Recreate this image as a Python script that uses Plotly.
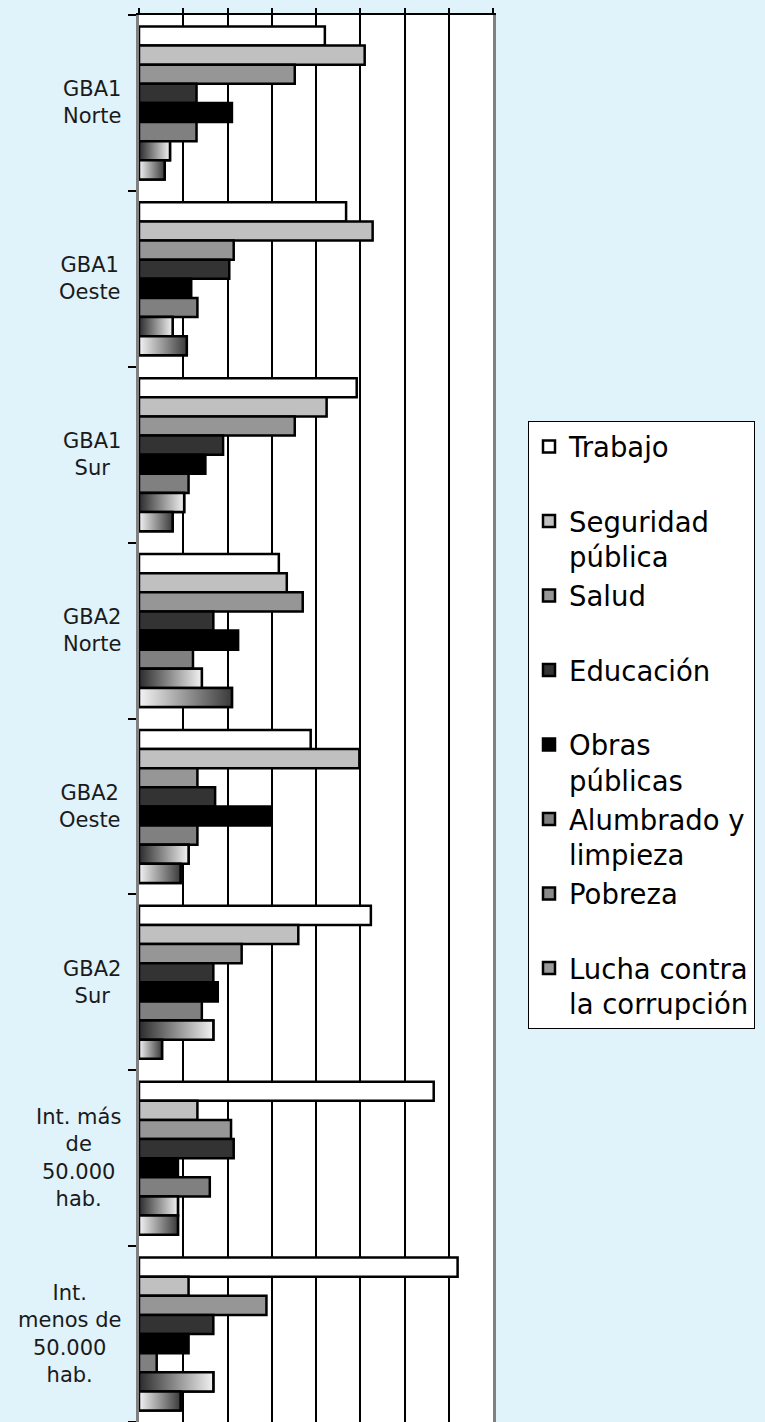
import plotly.graph_objects as go

categories = [
    "GBA1<br>Norte",
    "GBA1<br>Oeste",
    "GBA1<br>Sur",
    "GBA2<br>Norte",
    "GBA2<br>Oeste",
    "GBA2<br>Sur",
    "Int. más<br>de<br>50.000<br>hab.",
    "Int.<br>menos de<br>50.000<br>hab.",
]

series_names = [
    "Trabajo<br>\u00a0",
    "Seguridad<br>pública",
    "Salud<br>\u00a0",
    "Educación<br>\u00a0",
    "Obras<br>públicas",
    "Alumbrado y<br>limpieza",
    "Pobreza<br>\u00a0",
    "Lucha contra<br>la corrupción",
]

trabajo = [21.0, 23.4, 24.6, 15.8, 19.4, 26.2, 33.3, 36.0]
seguridad = [25.5, 26.4, 21.2, 16.7, 24.9, 18.0, 6.6, 5.6]
salud = [17.6, 10.7, 17.6, 18.5, 6.6, 11.6, 10.4, 14.4]
educacion = [6.5, 10.2, 9.5, 8.4, 8.6, 8.4, 10.7, 8.4]
obras = [10.5, 5.9, 7.5, 11.2, 15.0, 8.9, 4.4, 5.6]
alumbrado = [6.5, 6.6, 5.6, 6.1, 6.6, 7.1, 8.0, 2.0]
pobreza = [3.5, 3.8, 5.1, 7.1, 5.6, 8.4, 4.4, 8.4]
lucha = [2.9, 5.4, 3.8, 10.5, 4.7, 2.6, 4.4, 4.7]

series_values = [trabajo, seguridad, salud, educacion, obras, alumbrado, pobreza, lucha]
colors = ["#ffffff", "#c0c0c0", "#969696", "#333333", "#000000", "#808080", "#8a8a8a", "#9a9a9a"]
# gradient fills for the last two series (left -> right)
gradients = {
    6: [[0, "#2b2b2b"], [1, "#f2f2f2"]],
    7: [[0, "#f4f4f4"], [1, "#3a3a3a"]],
}

FONT = "DejaVu Sans"
BARGAP = 0.13

ypos = list(range(len(categories)))

fig = go.Figure()
for j, (name, vals) in enumerate(zip(series_names, series_values)):
    fig.add_trace(
        go.Bar(
            name=name,
            y=ypos,
            x=vals,
            orientation="h",
            marker=dict(color=colors[j], line=dict(color="#000000", width=2.5)),
            legendgroup=str(j),
            hoverinfo="x+name",
        )
    )

# gradient overlays, placed with the same grouping geometry as the bars
n = len(series_values)
w = 1 - BARGAP
for j, scale in gradients.items():
    for i, v in enumerate(series_values[j]):
        yc = ypos[i] - w / 2 + (j + 0.5) * w / n
        h = w / n / 2
        fig.add_trace(
            go.Scatter(
                x=[0, v, v, 0, 0],
                y=[yc - h, yc - h, yc + h, yc + h, yc - h],
                mode="lines",
                fill="toself",
                fillgradient=dict(type="horizontal", colorscale=scale),
                line=dict(color="#000000", width=2.5),
                showlegend=False,
                hoverinfo="skip",
            )
        )

for i, cat in enumerate(categories):
    fig.add_annotation(
        x=-0.045,
        xref="paper",
        y=ypos[i],
        yref="y",
        text=cat,
        showarrow=False,
        xanchor="right",
        align="center",
        font=dict(family=FONT, size=21, color="#1a1a1a"),
    )

fig.update_layout(
    width=765,
    height=1422,
    margin=dict(l=139, r=272, t=15, b=0),
    paper_bgcolor="#e0f2fa",
    plot_bgcolor="#ffffff",
    barmode="group",
    bargap=BARGAP,
    bargroupgap=0,
    font=dict(family=FONT, color="#000000"),
    legend=dict(
        x=(528 - 139) / 354,
        xanchor="left",
        y=(1422 - 421) / 1407,
        yanchor="top",
        bgcolor="#ffffff",
        bordercolor="#000000",
        borderwidth=1,
        font=dict(family=FONT, size=27.5, color="#000000"),
        valign="top",
        traceorder="normal",
    ),
    xaxis=dict(
        side="top",
        range=[0, 40],
        dtick=5,
        showticklabels=False,
        ticks="outside",
        ticklen=5,
        tickwidth=1.5,
        tickcolor="#000000",
        showgrid=True,
        gridcolor="#000000",
        gridwidth=1.5,
        zeroline=False,
        showline=True,
        linecolor="#000000",
        linewidth=2,
        fixedrange=True,
    ),
    yaxis=dict(
        range=[len(categories) - 0.5, -0.5],
        tickvals=[k - 0.5 for k in range(len(categories) + 1)],
        showticklabels=False,
        ticks="outside",
        ticklen=8,
        tickwidth=1.5,
        tickcolor="#000000",
        showgrid=False,
        zeroline=False,
        showline=True,
        linecolor="#808080",
        linewidth=3,
        mirror=True,
        fixedrange=True,
    ),
)

fig.write_html(
    "out.html",
    config={"displayModeBar": False},
    post_script="document.body.style.margin='0';",
)
